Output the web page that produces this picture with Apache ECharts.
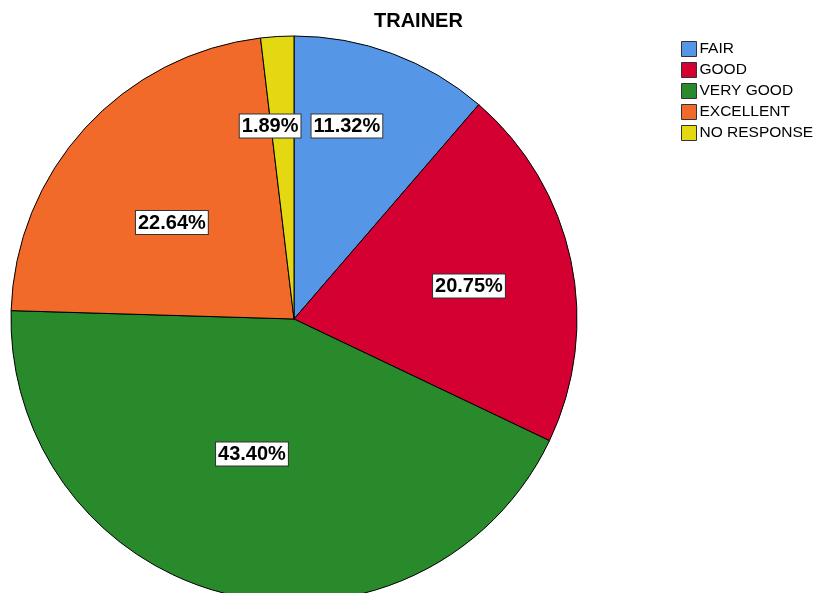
<!DOCTYPE html>
<html>
<head>
<meta charset="utf-8">
<script src="https://cdn.jsdelivr.net/npm/echarts@6/dist/echarts.min.js"></script>
<style>
  html, body { margin: 0; padding: 0; background: #fff; }
  #chart { width: 832px; height: 593px; }
</style>
</head>
<body>
<div id="chart"></div>
<script>
const categories = ['FAIR', 'GOOD', 'VERY GOOD', 'EXCELLENT', 'NO RESPONSE']
const counts = [6, 11, 23, 12, 1]
const percents = [11.32, 20.75, 43.40, 22.64, 1.89]
const colors = ['#5596e6', '#d40031', '#288a2a', '#f26a2a', '#e4d813']

const cx = 294, cy = 319, R = 283
// label placement: share of the radius, and turn (deg) from slice middle
const labelDist = [0.705, 0.632, 0.502, 0.545, 0.683]
const labelTurn = [-4.7, 1.6, 3.2, -4.2, -3.4]
const total = counts.reduce((a, b) => a + b, 0)

const chart = echarts.init(document.getElementById('chart'))

chart.setOption({
    animation: false,
    title: {
        text: 'TRAINER',
        left: 374,
        top: 11,
        padding: 0,
        textStyle: { fontFamily: 'Liberation Sans', fontSize: 20, fontWeight: 'bold', color: '#000' }
    },
    legend: {
        orient: 'vertical',
        left: 681,
        top: 41,
        padding: 0,
        itemWidth: 15,
        itemHeight: 15,
        itemGap: 5,
        icon: 'rect',
        data: categories,
        itemStyle: { borderColor: '#333', borderWidth: 1 },
        textStyle: { fontFamily: 'Liberation Sans', fontSize: 15.5, color: '#000', lineHeight: 15, padding: [0, 0, 0, -2] }
    },
    series: [{
        type: 'pie',
        center: [cx, cy],
        radius: R,
        startAngle: 90,
        clockwise: true,
        data: categories.map((c, i) => ({
            name: c,
            value: counts[i],
            itemStyle: { color: colors[i] }
        })),
        itemStyle: { borderColor: '#000', borderWidth: 1 },
        label: {
            position: 'inside',
            formatter: p => percents[p.dataIndex].toFixed(2) + '%',
            fontFamily: 'Liberation Sans',
            fontSize: 20,
            fontWeight: 'bold',
            color: '#000',
            backgroundColor: '#fff',
            borderColor: '#333',
            borderWidth: 1,
            padding: [2, 2, 1, 2]
        },
        labelLine: { show: false },
        labelLayout: p => {
            const i = p.dataIndex
            let before = 0
            for (let k = 0; k < i; k++) before += counts[k]
            const mid = (before + counts[i] / 2) / total * Math.PI * 2 + labelTurn[i] * Math.PI / 180
            const d = labelDist[i] * R
            return {
                x: cx + Math.sin(mid) * d - p.labelRect.width / 2,
                y: cy - Math.cos(mid) * d - p.labelRect.height / 2,
                align: 'left',
                verticalAlign: 'top'
            }
        }
    }]
})
</script>
</body>
</html>
